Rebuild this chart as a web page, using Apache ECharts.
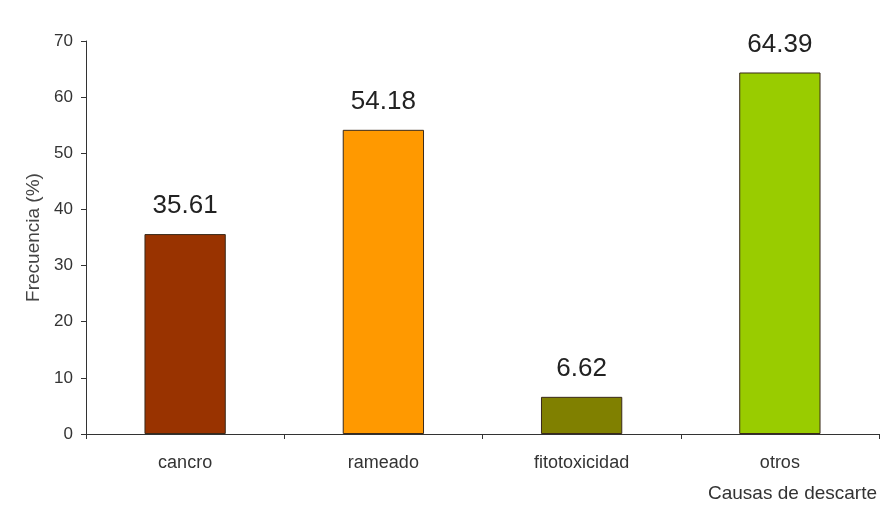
<!DOCTYPE html>
<html>
<head>
<meta charset="utf-8">
<script src="https://cdn.jsdelivr.net/npm/echarts@6/dist/echarts.min.js"></script>
<style>html,body{margin:0;padding:0;background:#fff;}#c{width:882px;height:510px;}</style>
</head>
<body>
<div id="c"></div>
<script>
const categories = ['cancro', 'rameado', 'fitotoxicidad', 'otros'];
const values = [35.61, 54.18, 6.62, 64.39];
const barColors = ['#993300', '#FF9900', '#808000', '#99CC00'];
const yTicks = { min: 0, max: 70, interval: 10 };

const chart = echarts.init(document.getElementById('c'));
chart.setOption({
  backgroundColor: '#ffffff',
  animation: false,
  grid: { left: 86, right: 3, top: 41, bottom: 76, containLabel: false },
  xAxis: {
    type: 'category',
    data: categories,
    name: 'Causas de descarte',
    nameLocation: 'end',
    nameGap: -2,
    nameTextStyle: { color: '#333', fontFamily: 'Liberation Sans, Arial', fontSize: 19, align: 'right', verticalAlign: 'top', padding: [50, 0, 0, 0] },
    axisLine: { lineStyle: { color: '#333', width: 1 } },
    axisTick: { show: true, alignWithLabel: false, length: 5, lineStyle: { color: '#333' } },
    axisLabel: { color: '#333', fontFamily: 'Liberation Sans, Arial', fontSize: 18, margin: 20 },
    splitLine: { show: false }
  },
  yAxis: {
    type: 'value',
    min: yTicks.min, max: yTicks.max, interval: yTicks.interval,
    name: 'Frecuencia (%)',
    nameLocation: 'middle',
    nameGap: 43,
    nameTextStyle: { color: '#444', fontFamily: 'Liberation Sans, Arial', fontSize: 19 },
    axisLine: { show: true, lineStyle: { color: '#333', width: 1 } },
    axisTick: { show: true, length: 5, lineStyle: { color: '#333' } },
    axisLabel: { color: '#333', fontFamily: 'Liberation Sans, Arial', fontSize: 17, margin: 13 },
    splitLine: { show: false }
  },
  series: [{
    type: 'bar',
    data: values.map((v, i) => ({ value: v, itemStyle: { color: barColors[i] } })),
    barWidth: '41%',
    itemStyle: { borderColor: '#3a2a1a', borderWidth: 1 },
    label: {
      show: true, position: 'top', distance: 15,
      color: '#222', fontFamily: 'Liberation Sans, Arial', fontSize: 26,
      formatter: p => p.value.toFixed(2)
    }
  }]
});
</script>
</body>
</html>
